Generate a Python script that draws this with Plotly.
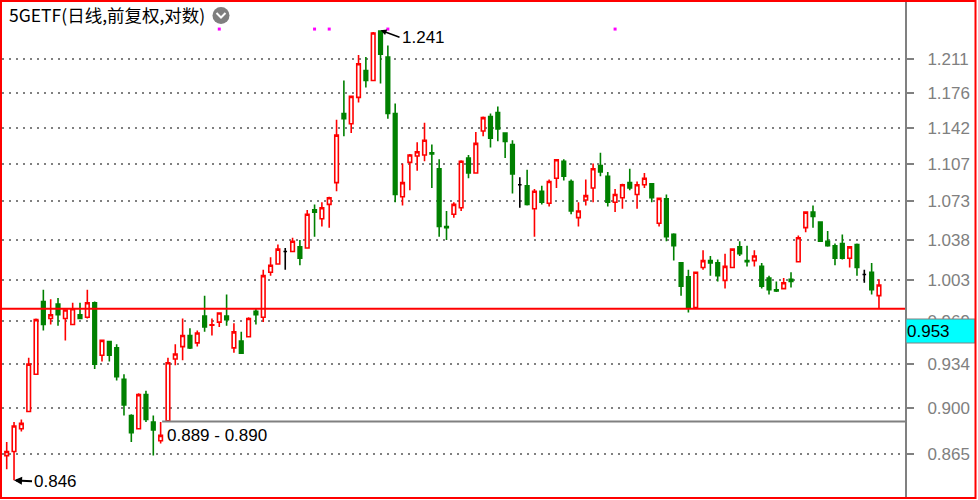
import math
import plotly.graph_objects as go

# ---------------- data ----------------
title_text = "5GETF(日线,前复权,对数)"

opens = [0.864, 0.867, 0.884, 0.897, 0.926, 0.985, 0.971, 0.983, 0.971, 0.966,
         0.974, 0.972, 0.984, 0.941, 0.952, 0.947, 0.922, 0.894, 0.884, 0.910,
         0.889, 0.875, 0.890, 0.938, 0.948, 0.957, 0.951, 0.973, 0.9655, 0.968,
         0.973, 0.947, 0.9524, 0.956, 0.977, 0.972, 1.010, 1.017, 1.028, 1.028,
         1.032, 1.031, 1.065, 1.057, 1.070, 1.090, 1.156, 1.146, 1.172, 1.199,
         1.189, 1.240, 1.213, 1.156, 1.077, 1.109, 1.115, 1.116, 1.118, 1.103,
         1.050, 1.061, 1.067, 1.113, 1.099, 1.139, 1.153, 1.157, 1.137, 1.126,
         1.088, 1.087, 1.066, 1.082, 1.071, 1.094, 1.110, 1.091, 1.058, 1.074,
         1.085, 1.106, 1.096, 1.072, 1.076, 1.090, 1.079, 1.088, 1.089, 1.053,
         1.075, 1.043, 1.018, 1.006, 0.980, 1.014, 1.020, 1.018, 1.003, 1.014,
         1.032, 1.020, 1.020, 1.015, 1.005, 0.995, 0.996, 1.004, 1.019, 1.049,
         1.063, 1.054, 1.037, 1.033, 1.035, 1.022, 1.034, 1.008, 1.010, 0.990]
highs = [0.874, 0.889, 0.891, 0.939, 0.971, 0.995, 0.987, 0.988, 0.978, 0.984,
         0.984, 0.995, 0.985, 0.953, 0.9524, 0.950, 0.926, 0.895, 0.911, 0.913,
         0.894, 0.889, 0.939, 0.950, 0.971, 0.963, 0.961, 0.990, 0.971, 0.976,
         0.991, 0.967, 0.960, 0.972, 0.979, 1.012, 1.023, 1.034, 1.031, 1.040,
         1.038, 1.065, 1.070, 1.072, 1.077, 1.150, 1.189, 1.173, 1.215, 1.213,
         1.239, 1.241, 1.225, 1.166, 1.108, 1.117, 1.128, 1.147, 1.126, 1.112,
         1.064, 1.072, 1.111, 1.116, 1.138, 1.153, 1.156, 1.163, 1.137, 1.130,
         1.095, 1.102, 1.084, 1.087, 1.093, 1.112, 1.112, 1.093, 1.072, 1.093,
         1.108, 1.118, 1.100, 1.084, 1.089, 1.103, 1.091, 1.099, 1.089, 1.076,
         1.079, 1.044, 1.018, 1.012, 1.010, 1.029, 1.024, 1.021, 1.026, 1.030,
         1.037, 1.033, 1.029, 1.018, 1.007, 1.002, 1.005, 1.010, 1.042, 1.063,
         1.069, 1.054, 1.046, 1.035, 1.043, 1.032, 1.035, 1.012, 1.018, 1.004]
lows = [0.854, 0.846, 0.882, 0.897, 0.926, 0.961, 0.966, 0.965, 0.953, 0.966,
        0.971, 0.971, 0.930, 0.936, 0.936, 0.921, 0.894, 0.874, 0.884, 0.889,
        0.864, 0.873, 0.890, 0.933, 0.937, 0.946, 0.948, 0.960, 0.957, 0.964,
        0.965, 0.943, 0.943, 0.956, 0.966, 0.968, 1.007, 1.017, 1.012, 1.028,
        1.016, 1.031, 1.041, 1.050, 1.049, 1.082, 1.134, 1.137, 1.167, 1.182,
        1.189, 1.186, 1.151, 1.072, 1.069, 1.083, 1.101, 1.110, 1.085, 1.041,
        1.038, 1.058, 1.064, 1.094, 1.099, 1.134, 1.123, 1.129, 1.113, 1.080,
        1.067, 1.069, 1.041, 1.070, 1.068, 1.085, 1.092, 1.061, 1.050, 1.069,
        1.072, 1.096, 1.068, 1.063, 1.066, 1.083, 1.066, 1.085, 1.072, 1.050,
        1.037, 1.020, 0.990, 0.976, 0.980, 1.012, 1.007, 1.002, 0.996, 1.014,
        1.024, 1.015, 1.015, 0.996, 0.991, 0.993, 0.996, 0.997, 1.019, 1.045,
        1.049, 1.037, 1.032, 1.016, 1.021, 1.014, 1.007, 1.001, 0.991, 0.979]
closes = [0.867, 0.886, 0.888, 0.934, 0.970, 0.966, 0.974, 0.974, 0.978, 0.979,
          0.971, 0.984, 0.934, 0.953, 0.941, 0.924, 0.902, 0.881, 0.910, 0.891,
          0.883, 0.879, 0.935, 0.942, 0.957, 0.947, 0.959, 0.964, 0.9658, 0.9755,
          0.970, 0.960, 0.9426, 0.971, 0.974, 1.007, 1.016, 1.030, 1.028, 1.037,
          1.022, 1.061, 1.063, 1.067, 1.076, 1.135, 1.151, 1.173, 1.206, 1.189,
          1.238, 1.216, 1.156, 1.079, 1.090, 1.116, 1.119, 1.130, 1.117, 1.050,
          1.049, 1.070, 1.110, 1.099, 1.127, 1.152, 1.132, 1.141, 1.129, 1.098,
          1.088, 1.070, 1.082, 1.072, 1.091, 1.1115, 1.096, 1.064, 1.064, 1.078,
          1.103, 1.100, 1.072, 1.079, 1.088, 1.085, 1.088, 1.094, 1.076, 1.0755,
          1.041, 1.033, 0.998, 0.980, 1.010, 1.020, 1.018, 1.007, 1.015, 1.030,
          1.026, 1.019, 1.024, 0.998, 0.995, 0.994, 1.001, 1.002, 1.040, 1.063,
          1.059, 1.037, 1.033, 1.022, 1.022, 1.032, 1.014, 1.008, 0.995, 0.999]
doji_days = [38, 70, 117]             # flat (black) candles
event_days = [29, 42, 44, 52, 83]     # magenta event dots
event_level = 1.2422

y_ticks = [1.211, 1.176, 1.142, 1.107, 1.073, 1.038, 1.003, 0.969, 0.934, 0.900, 0.865]
tick_labels = ["%.3f" % v for v in y_ticks]

support_level = 0.979
range_level = 0.8895
range_label = "0.889 - 0.890"
range_start_day = 21.2
high_day, high_value = 51, 1.241
low_day, low_value = 1, 0.846
cursor_label = "0.953"

# ---------------- geometry helpers (layout only) ----------------
PL, PR, PT, PB = 2, 905, 2, 497
W, H = 978, 500


def px(x):
    return (x - PL) / (PR - PL)


def py(y):
    return 1 - (y - PT) / (PB - PT)


days = list(range(len(opens)))
main = [i for i in days if i not in doji_days]

fig = go.Figure()
fig.add_trace(go.Candlestick(
    x=main,
    open=[opens[i] for i in main], high=[highs[i] for i in main],
    low=[lows[i] for i in main], close=[closes[i] for i in main],
    increasing=dict(line=dict(color="#FF0000", width=1.6), fillcolor="#FFFFFF"),
    decreasing=dict(line=dict(color="#008000", width=1.6), fillcolor="#008000"),
    whiskerwidth=0, showlegend=False, hoverinfo="skip"))
fig.add_trace(go.Candlestick(
    x=doji_days,
    open=[opens[i] for i in doji_days], high=[highs[i] for i in doji_days],
    low=[lows[i] for i in doji_days], close=[closes[i] for i in doji_days],
    increasing=dict(line=dict(color="#000000", width=1.6), fillcolor="#000000"),
    decreasing=dict(line=dict(color="#000000", width=1.6), fillcolor="#000000"),
    whiskerwidth=0, showlegend=False, hoverinfo="skip"))
fig.add_trace(go.Scatter(
    x=event_days, y=[event_level] * len(event_days), mode="markers",
    marker=dict(symbol="square", size=3, color="#FF00FF", line=dict(width=0)),
    showlegend=False, hoverinfo="skip"))

x_lo = -(6.7 - PL) / 7.33
x_hi = x_lo + (PR - PL) / 7.33

shapes = [
    dict(type="line", xref="paper", yref="y", x0=0, x1=1, y0=support_level, y1=support_level,
         line=dict(color="#FF0000", width=2), layer="above"),
    dict(type="line", xref="x", yref="y", x0=range_start_day, x1=x_hi, y0=range_level, y1=range_level,
         line=dict(color="#808080", width=2), layer="above"),
    # cursor price box on the axis
    dict(type="rect", xref="paper", yref="paper", x0=px(906), x1=px(975), y0=py(343), y1=py(319),
         fillcolor="#00FFFF", line=dict(color="#808080", width=1), layer="above"),
    # outer red frame
    dict(type="rect", xref="paper", yref="paper", x0=px(1), x1=px(975.5), y0=py(498), y1=py(1),
         line=dict(color="#FF0000", width=2), layer="above"),
    # gray round icon with chevron
    dict(type="circle", xref="paper", yref="paper", x0=px(212.5), x1=px(229.5), y0=py(24), y1=py(7),
         fillcolor="#7F7F7F", line=dict(width=0), layer="above"),
    dict(type="path", xref="paper", yref="paper",
         path="M %f %f L %f %f L %f %f" % (px(216.5), py(13), px(221), py(17.5), px(225.5), py(13)),
         line=dict(color="#FFFFFF", width=2), layer="above"),
]

txt_font = dict(family="Liberation Sans", size=17, color="#000000")
annotations = [
    dict(text=title_text, xref="paper", yref="paper", x=px(7), y=py(15), xanchor="left",
         yanchor="middle", showarrow=False,
         font=dict(family="Noto Sans CJK SC", size=17.5, color="#000000")),
    dict(text="%.3f" % high_value, x=high_day, y=math.log10(high_value), xref="x", yref="y",
         showarrow=True, ax=19, ay=7, xanchor="left", yanchor="middle",
         arrowhead=2, arrowsize=0.8, arrowwidth=1.5, arrowcolor="#000000", font=txt_font),
    dict(text="%.3f" % low_value, x=low_day, y=math.log10(low_value), xref="x", yref="y",
         showarrow=True, ax=18, ay=1, xanchor="left", yanchor="middle",
         arrowhead=2, arrowsize=0.8, arrowwidth=2, arrowcolor="#000000", font=txt_font),
    dict(text=range_label, x=range_start_day + 0.4, y=math.log10(range_level), xref="x", yref="y",
         showarrow=False, xanchor="left", yanchor="top", yshift=-3, font=txt_font),
    dict(text=cursor_label, xref="paper", yref="paper", x=px(905), y=py(331), xanchor="left",
         yanchor="middle", showarrow=False, font=txt_font),
]

fig.update_layout(
    width=W, height=H,
    margin=dict(l=PL, r=W - PR, t=PT, b=H - PB, pad=0),
    paper_bgcolor="#FFFFFF", plot_bgcolor="#FFFFFF",
    showlegend=False,
    shapes=shapes, annotations=annotations,
    xaxis=dict(range=[x_lo, x_hi], visible=False, showgrid=False, zeroline=False,
               rangeslider=dict(visible=False), fixedrange=True),
    yaxis=dict(type="log", range=[-0.07879, 0.10420], side="right",
               tickvals=y_ticks, ticktext=tick_labels,
               tickfont=dict(family="Liberation Sans", size=17, color="#808080"),
               ticks="outside", ticklen=7, tickwidth=2, tickcolor="#808080",
               ticklabelstandoff=10,
               showline=True, linecolor="#808080", linewidth=2,
               showgrid=True, gridcolor="#808080", gridwidth=1.5, griddash="2px,5px",
               zeroline=False, fixedrange=True),
)

fig.write_html("out.html", config={"displayModeBar": False},
               post_script="document.body.style.margin='0px';document.body.style.overflow='hidden';")
